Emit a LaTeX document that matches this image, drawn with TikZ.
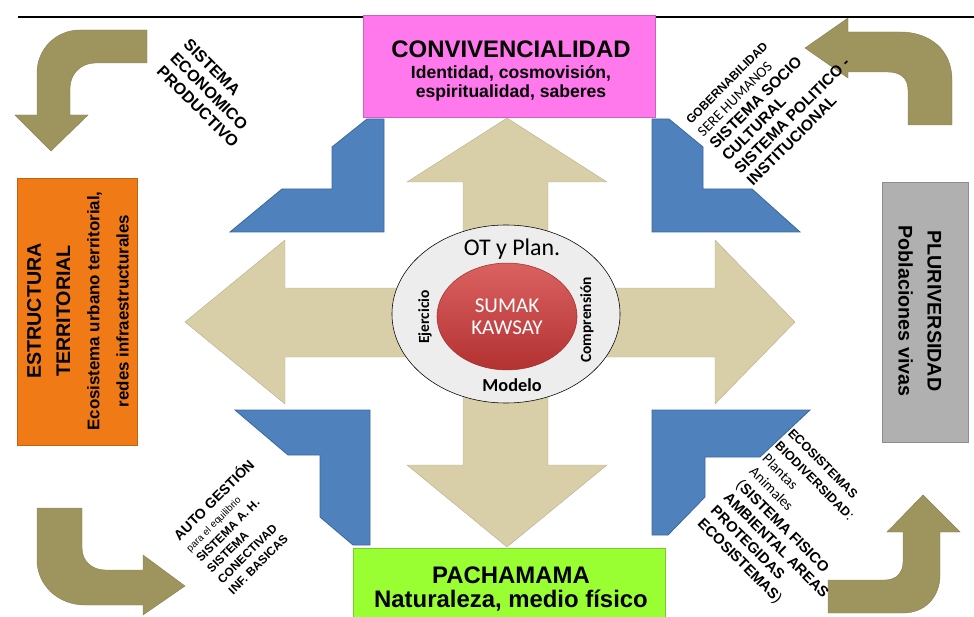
\documentclass[tikz,border=0pt]{standalone}
\usepackage{fontspec}
\setmainfont{Liberation Sans}
\newfontfamily\carlito{Carlito}
\usetikzlibrary{shapes.geometric}

\newcommand{\tam}[2]{\fontsize{#1}{#2}\selectfont}

\definecolor{rosa}{HTML}{FF78EC}
\definecolor{verde}{HTML}{99FF33}
\definecolor{naranja}{HTML}{F07A16}
\definecolor{gris}{HTML}{B0B0B0}
\definecolor{azul}{HTML}{4F81BD}
\definecolor{azulborde}{HTML}{3C6AA0}
\definecolor{beige}{HTML}{D8CFA8}
\definecolor{oliva}{HTML}{9E945E}
\definecolor{rojo}{HTML}{D23A3A}
\definecolor{anillo}{HTML}{EDEDED}

\tikzset{
  caja/.style={draw=#1!80!black, fill=#1, inner sep=0pt},
  chevron/.style={fill=azul, draw=azulborde, line width=0.6pt},
  flecha/.style={fill=oliva, draw=oliva!85!black, line width=0.3pt},
  cruz/.style={fill=beige, draw=beige!85!black, line width=0.3pt},
  rotulo/.style={align=left, inner sep=0pt, anchor=west},
}

\begin{document}
\begin{tikzpicture}[x=0.025cm, y=-0.025cm]
\useasboundingbox (0,0) rectangle (974,617);
\clip (0,0) rectangle (974,617);
% linea superior
\draw[line width=0.8pt] (18,17) -- (974,17);

% cruz central
\draw[cruz] (507,118) -- (607,182) -- (548,182) -- (548,288) -- (715,288) -- (715,240)
  -- (795,322) -- (715,404) -- (715,357) -- (548,357) -- (548,465) -- (607,465)
  -- (507,547) -- (407,465) -- (463,465) -- (463,357) -- (285,357) -- (285,404)
  -- (185,322) -- (285,240) -- (285,288) -- (463,288) -- (463,182) -- (407,182) -- cycle;

% chevrons azules
\draw[chevron] (367,119) -- (384,119) -- (384,232) -- (230,232) -- (282,189) -- (332,189) -- (332,147) -- cycle;
\draw[chevron] (669,119) -- (652,119) -- (652,232) -- (800,232) -- (752,189) -- (703,189) -- (703,147) -- cycle;
\draw[chevron] (235,410) -- (370,410) -- (370,545) -- (353,545) -- (320,517) -- (320,455) -- (288,455) -- cycle;
\draw[chevron] (652,410) -- (810,410) -- (760,457) -- (705,457) -- (705,497) -- (668,535) -- (652,535) -- cycle;

% flechas curvas
\draw[flecha] (147,30) -- (80,30) .. controls (56,30) and (37,49) .. (37,73) -- (37,115) -- (15,115)
  -- (51,151) -- (88,115) -- (70,115) -- (70,88) .. controls (70,74) and (81,63) .. (95,63) -- (147,63) -- cycle;
\draw[flecha] (848,32) -- (900,32) .. controls (930,32) and (952,50) .. (952,80) -- (952,125) -- (908,125)
  -- (908,90) .. controls (908,78) and (900,72) .. (888,72) -- (848,72) -- (848,78) -- (805,48) -- (848,18) -- cycle;
\draw[flecha] (37,508) -- (82,508) -- (82,548) .. controls (82,561) and (92,570) .. (105,570) -- (143,570)
  -- (143,555) -- (185,586) -- (143,615) -- (143,605) -- (85,605) .. controls (58,605) and (37,585) .. (37,560) -- cycle;
\draw[flecha] (828,580) -- (885,580) .. controls (896,580) and (903,573) .. (903,562) -- (903,532) -- (887,532)
  -- (923,495) -- (960,532) -- (940,532) -- (940,575) .. controls (940,597) and (925,613) .. (903,613) -- (828,613) -- cycle;

% cajas
\node (conv) [caja=rosa, minimum width=7.3cm, minimum height=2.55cm] at (509,66) {};
\node (convtxt) [align=center, font=\bfseries\tam{12.5}{13.5}] at (511,71)
  {{\tam{17}{18}CONVIVENCIALIDAD}\\[2pt]Identidad, cosmovisión,\\espiritualidad, saberes};
\node (pacha) [caja=verde, minimum width=7.8cm, minimum height=1.9cm] at (509,586) {};
\node (pachatxt) [align=center, font=\bfseries\tam{17}{17.7}] at (511,589)
  {PACHAMAMA\\Naturaleza, medio físico};
\node (estruct) [caja=naranja, minimum width=6.675cm, minimum height=3cm, rotate=90] at (77,311.5) {};
\node (estructtxt) [align=center, rotate=90, font=\bfseries\tam{14}{20.8}] at (78,311)
  {ESTRUCTURA\\TERRITORIAL\\{\tam{12}{20.8}Ecosistema urbano territorial,}\\{\tam{12}{20.8}redes infraestructurales}};
\node (pluri) [caja=gris, minimum width=6.5cm, minimum height=2.15cm, rotate=-90] at (925,312) {};
\node (pluritxt) [align=center, rotate=-90, font=\bfseries\tam{14}{20.6}] at (920,311)
  {PLURIVERSIDAD\\Poblaciones vivas};

% centro
\node (anillo) [ellipse, draw, fill=anillo, minimum width=5.7cm, minimum height=4.45cm] at (506,314) {};
\node (nucleo) [ellipse, draw=rojo!80!black, top color=rojo!80!white, bottom color=rojo!85!black,
  minimum width=3.5cm, minimum height=2.67cm, align=center, text=white, font=\carlito\tam{15}{16}] at (507,316.5)
  {SUMAK\\KAWSAY};
\node (otplan) [font=\carlito\tam{17}{18}] at (512,249) {OT y Plan.};
\node (modelo) [font=\carlito\bfseries\tam{13}{14}] at (512,385) {Modelo};
\node (ejer) [rotate=90, font=\carlito\bfseries\tam{11}{12}] at (425,317) {Ejercicio};
\node (compr) [rotate=90, font=\carlito\bfseries\tam{11}{12}] at (587,320) {Comprensión};

% rotulos diagonales
\node (econ) [rotulo, rotate=-45, font=\bfseries\tam{11.5}{13.5}] at (173,55)
  {SISTEMA\\ECONOMICO\\PRODUCTIVO};
\node (gob) [rotulo, rotate=45, font=\bfseries\tam{11}{12.5}] at (719,153)
  {{\tam{8.5}{12.5}GOBERNABILIDAD}\\{\carlito\mdseries\tam{10.5}{12.5}SERE HUMANOS}\\SISTEMA SOCIO\\CULTURAL\\SISTEMA POLITICO -\\INSTITUCIONAL};
\node (auto) [rotulo, rotate=45, font=\bfseries\tam{8.5}{10.8}] at (202,564)
  {{\tam{10}{10.8}AUTO GESTIÓN}\\{\mdseries\tam{7}{10.8}para el equilibrio}\\SISTEMA A. H.\\SISTEMA\\CONECTIVAD\\INF. BASICAS};
\node (eco) [rotulo, rotate=-45, font=\bfseries\tam{10.5}{13}] at (744,477)
  {{\tam{9}{13}ECOSISTEMAS}\\{\tam{9}{13}BIODIVERSIDAD}{\mdseries:}\\{\carlito\mdseries Plantas}\\{\carlito\mdseries Animales}\\{\mdseries(}SISTEMA FISICO\\AMBIENTAL AREAS\\PROTEGIDAS\\ECOSISTEMAS{\mdseries)}};
\end{tikzpicture}
\end{document}
